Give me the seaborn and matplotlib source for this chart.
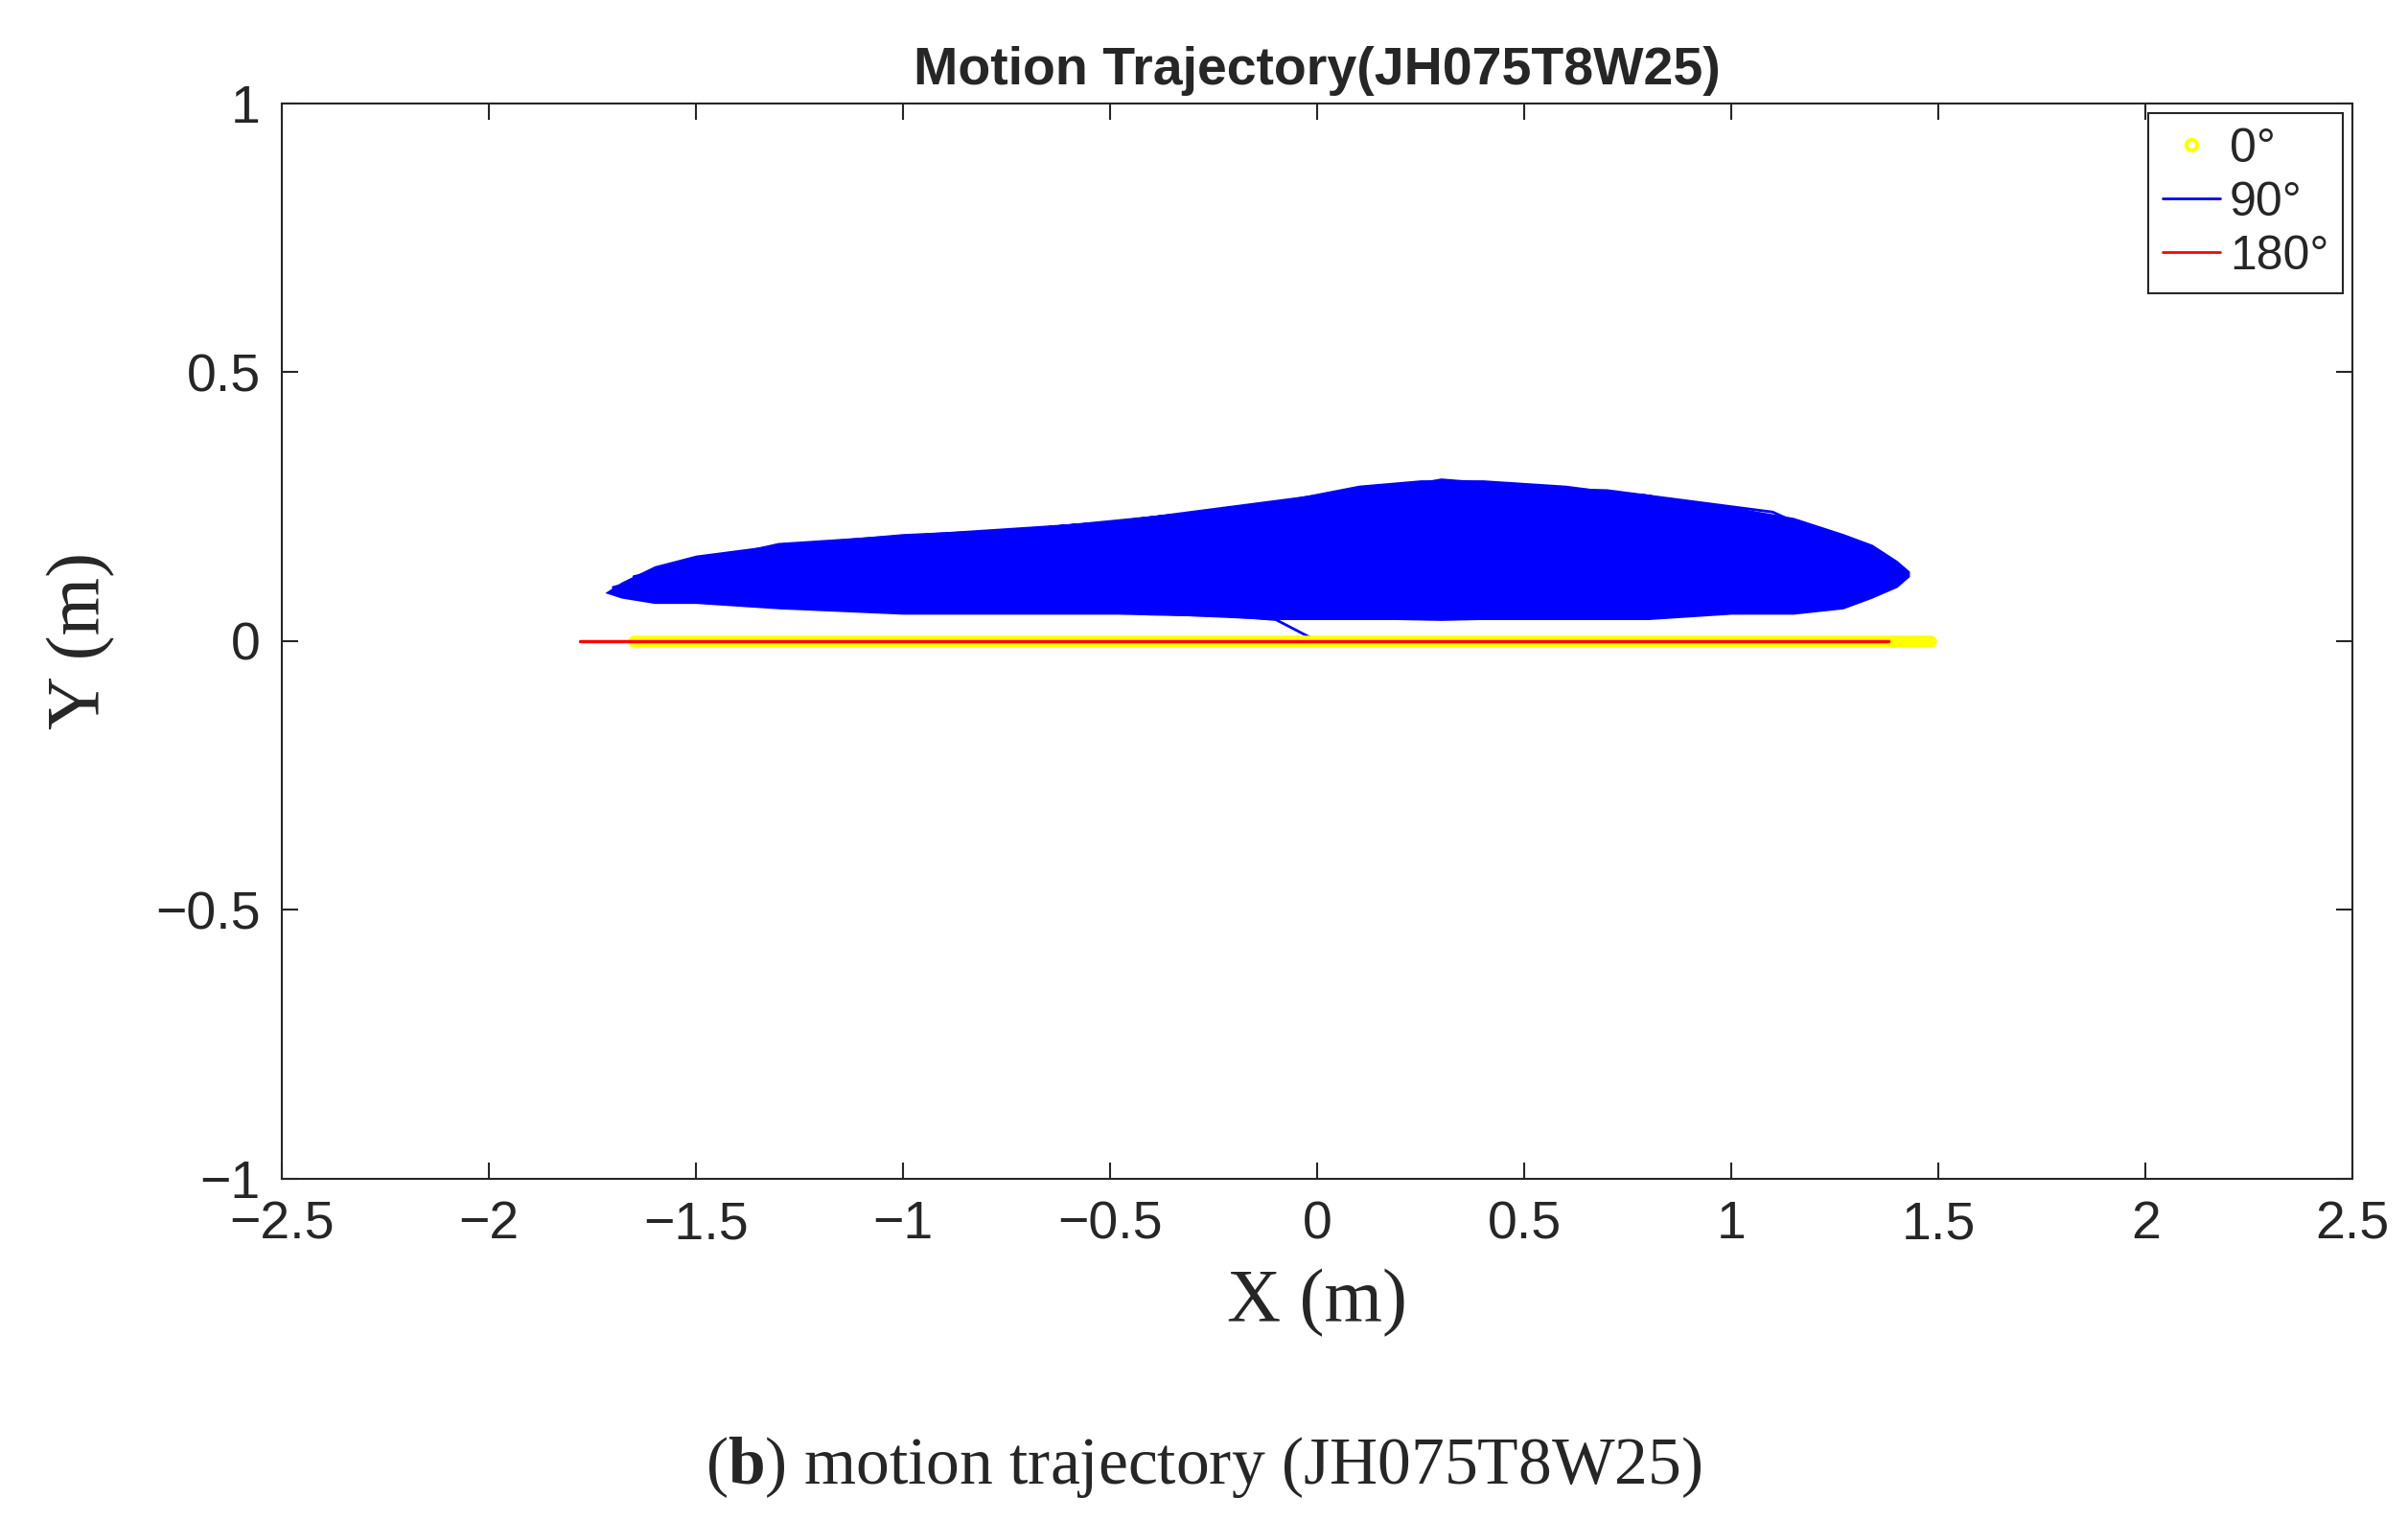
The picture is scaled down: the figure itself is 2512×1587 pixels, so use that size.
import numpy as np
import pandas as pd
import matplotlib
matplotlib.use("Agg")
import matplotlib.pyplot as plt
from matplotlib.lines import Line2D
import seaborn as sns

# envelope of the 90 deg trajectory
env_x = [-1.72, -1.68, -1.6, -1.5, -1.3, -1.0, -0.7, -0.4, -0.1, 0.1, 0.25, 0.4, 0.6, 0.8, 1.0, 1.15, 1.27, 1.34, 1.4, 1.43]
env_top = [0.09, 0.11, 0.14, 0.16, 0.18, 0.20, 0.21, 0.23, 0.26, 0.29, 0.30, 0.30, 0.29, 0.27, 0.25, 0.23, 0.20, 0.18, 0.15, 0.13]
env_bot = [0.09, 0.08, 0.07, 0.07, 0.06, 0.05, 0.05, 0.05, 0.04, 0.04, 0.04, 0.04, 0.04, 0.04, 0.05, 0.05, 0.06, 0.08, 0.10, 0.12]
# a few visible loops of the trace
loop_x = [0.0, -0.1, -0.6, -1.2, -1.6, -1.7, -1.5, -0.8, 0.0, 0.3, 0.8, 1.2, 1.38, 1.3, 0.9, 0.3, -0.4, -1.1, -1.55, -1.65, -1.3, -0.5, 0.2, 0.7, 1.1, 1.3, 1.0, 0.4]
loop_y = [0.0, 0.04, 0.07, 0.09, 0.11, 0.10, 0.14, 0.20, 0.26, 0.30, 0.27, 0.20, 0.14, 0.08, 0.05, 0.04, 0.05, 0.07, 0.09, 0.12, 0.18, 0.22, 0.29, 0.28, 0.24, 0.17, 0.06, 0.05]
red_x = [-1.78, 1.38]
red_y = [0.0, 0.0]
yel_x = [-1.65, 1.48]
yel_y = [0.0, 0.0]

sns.set_theme(style="white")
plt.rcParams['font.family'] = ['Liberation Sans', 'DejaVu Sans']
plt.rcParams['mathtext.fontset'] = 'custom'
plt.rcParams['mathtext.bf'] = 'Liberation Serif:bold'
plt.rcParams['mathtext.rm'] = 'Liberation Serif'

fig = plt.figure(figsize=(25.12, 15.87), dpi=100)
ax = fig.add_axes([0.117, 0.225, 0.86, 0.707])

ax.fill_between(env_x, env_bot, env_top, color="#0000ff", lw=0)
sns.lineplot(x=loop_x, y=loop_y, sort=False, color="#0000ff", lw=2, ax=ax, estimator=None)
sns.lineplot(x=yel_x, y=yel_y, sort=False, color="#ffff00", lw=9, ax=ax, estimator=None, solid_capstyle="round")
sns.lineplot(x=red_x, y=red_y, sort=False, color="#ff0000", lw=2.5, ax=ax, estimator=None)

ax.set_xlim(-2.5, 2.5)
ax.set_ylim(-1, 1)
ax.set_xticks([-2.5, -2, -1.5, -1, -0.5, 0, 0.5, 1, 1.5, 2, 2.5])
ax.set_xticklabels(["\u22122.5", "\u22122", "\u22121.5", "\u22121", "\u22120.5", "0", "0.5", "1", "1.5", "2", "2.5"])
ax.set_yticks([-1, -0.5, 0, 0.5, 1])
ax.set_yticklabels(["\u22121", "\u22120.5", "0", "0.5", "1"])
ax.tick_params(labelsize=40, colors="#262626", direction="in", length=12, width=1.5,
               top=True, right=True, bottom=True, left=True, pad=16)
for s in ax.spines.values():
    s.set_color("#262626")
    s.set_linewidth(1.5)

ax.set_title("Motion Trajectory(JH075T8W25)", fontsize=40, fontweight="bold", pad=14)
ax.set_xlabel("X (m)", fontsize=56, family="Liberation Serif", labelpad=14)
ax.set_ylabel("Y (m)", fontsize=56, family="Liberation Serif", labelpad=30)

handles = [Line2D([], [], color="#ffff00", marker="o", ls="none", ms=8, mfc="none", mew=3),
           Line2D([], [], color="#0000ff", lw=2),
           Line2D([], [], color="#ff0000", lw=2)]
leg = ax.legend(handles, ["0\u00b0", "90\u00b0", "180\u00b0"], loc="upper right", fontsize=36,
                handlelength=1.2, handletextpad=0.2, borderpad=0.3, labelspacing=0.2,
                fancybox=False, framealpha=1, borderaxespad=0.2)
leg.get_frame().set_edgecolor("#262626")
leg.get_frame().set_linewidth(1.5)

fig.text(0.5, 0.035, r"($\mathbf{b}$) motion trajectory (JH075T8W25)", ha="center", va="center",
         fontsize=50, family="Liberation Serif")
fig.savefig("out.png", dpi=100, facecolor="white")
